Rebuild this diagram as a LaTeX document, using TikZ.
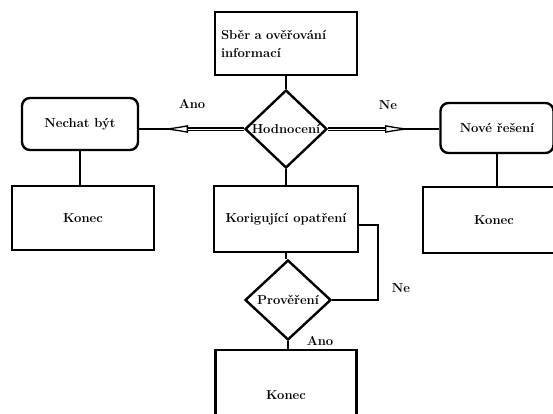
\documentclass[tikz,border=0pt]{standalone}
\usetikzlibrary{shapes.geometric,arrows.meta}
\begin{document}
\begin{tikzpicture}[x=1pt,y=-1pt,
  every node/.style={font=\fontsize{13}{18}\selectfont\bfseries},
  box/.style={draw, line width=2.4pt, inner sep=0pt},
  rbox/.style={box, rounded corners=8pt},
  dia/.style={draw, diamond, line width=2.4pt, inner sep=0pt},
  dbl/.style={double, double distance=0.9pt, line width=1.3pt, -{Latex[fill=white,length=28pt,width=8pt,line width=1.3pt]}},
  ]
\useasboundingbox (0,0) rectangle (553,414);
\clip (0,0) rectangle (553,414);
\node[box, minimum width=142pt, minimum height=63pt, text width=130pt, align=left] (sber) at (286,43.5) {Sběr a ověřování\\informací};
\node[dia, minimum width=82pt, minimum height=78pt, label=center:Hodnocení] (hod) at (286,129) {};
\draw[line width=2.4pt] (sber) -- (hod);
\node[rbox, minimum width=116pt, minimum height=52pt] (nechat) at (80,124) {Nechat být};
\node[rbox, minimum width=113pt, minimum height=50pt] (nove) at (497,128) {Nové řešení};
\coordinate (ltip) at (160,129);
\coordinate (rtip) at (413,129);
\draw[line width=2pt] (ltip) ++(12,0) -- (ltip -| nechat.east);
\draw[line width=2pt] (rtip) ++(-12,0) -- (rtip -| nove.west);
\draw[dbl] (hod.west) -- (ltip);
\draw[dbl] (hod.east) -- (rtip);
\node (ano1) at (192,104) {Ano};
\node (ne1) at (388,105) {Ne};
\node[box, minimum width=142pt, minimum height=64pt] (konec1) at (83,218) {Konec};
\node[box, minimum width=142pt, minimum height=66pt] (konec2) at (494,220) {Konec};
\draw[line width=2.4pt] (nechat.south) -- (nechat.south |- konec1.north);
\draw[line width=2.4pt] (nove.south) -- (nove.south |- konec2.north);
\node[box, minimum width=144pt, minimum height=66pt] (kor) at (286,219) {Korigující opatření};
\draw[line width=2.4pt] (hod) -- (kor);
\node[dia, minimum width=86pt, minimum height=80pt, label=center:Prověření] (prov) at (288,300) {};
\draw[line width=2.4pt] (kor.south) -- (kor.south |- prov.north);
\coordinate (loop) at (378,225);
\draw[line width=2.4pt] (prov.east) -| (loop) -- (loop -| kor.east);
\node (ne2) at (401,288) {Ne};
\node[box, minimum width=141pt, minimum height=90pt] (konec3) at (286,395) {Konec};
\draw[line width=2.4pt] (prov.south) -- (prov.south |- konec3.north);
\node (ano2) at (320,341) {Ano};
\end{tikzpicture}
\end{document}
